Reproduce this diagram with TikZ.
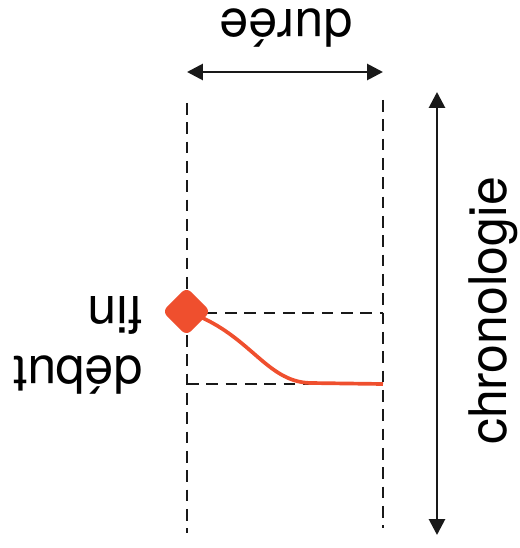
\documentclass[tikz,border=0pt]{standalone}
\usepackage{fontspec}
\setmainfont{TeX Gyre Heros}
\usetikzlibrary{arrows.meta,calc,positioning}
\definecolor{markred}{RGB}{239,79,46}
\tikzset{
  guide/.style={dash pattern=on 6.6pt off 4.4pt,line width=1.4pt,black!90},
  span/.style={{Triangle[length=9pt,width=9pt]}-{Triangle[length=9pt,width=9pt]},line width=1.6pt,black!90},
  lbl/.style={inner sep=0pt,font=\fontsize{29.5}{34}\selectfont}
}
\begin{document}
\begin{tikzpicture}[scale=1,line width=1.1pt]
\useasboundingbox (0,0) rectangle (10.4,10.96);
\coordinate (L0) at (3.74,8.9);
\coordinate (L1) at (3.74,0.3);
\coordinate (R0) at (7.66,8.96);
\coordinate (R1) at (7.66,0.4);
\coordinate (M) at (3.73,4.73);
\coordinate (E1) at (7.66,4.7);
\coordinate (E2) at (7.66,3.28);
\coordinate (B2) at (3.74,3.28);
\coordinate (D0) at (3.74,9.52);
\coordinate (D1) at (7.66,9.52);
\coordinate (C0) at (8.74,9.12);
\coordinate (C1) at (8.74,0.26);
%the guides
\draw[guide] (L0)--(L1);
\draw[guide] (R0)--(R1);
\draw[guide] (M|-E1)--(E1);
\draw[guide] (B2)--(E2);
%arrows
\draw[span] (D0)--(D1);
\draw[span] (C0)--(C1);
%curve
\draw[markred,line width=2.1pt] (M) .. controls (5.0,4.3) and (5.3,3.33) .. (6.2,3.3) -- (E2);
\node[rotate=45,fill=markred,minimum size=0.68cm,rounded corners=3.5pt,inner sep=0pt] (marker) at (M) {};
%labels
\node[lbl,rotate=180,anchor=base] (duree) at (5.72,10.76) {durée};
\node[lbl,rotate=180,anchor=base west] (fin) at (2.87,5.04) {fin};
\node[lbl,rotate=180,anchor=base west] (debut) at (2.87,3.82) {début};
\node[lbl,rotate=90,anchor=base] (chrono) at (10.12,4.74) {chronologie};
\end{tikzpicture}
\end{document}
